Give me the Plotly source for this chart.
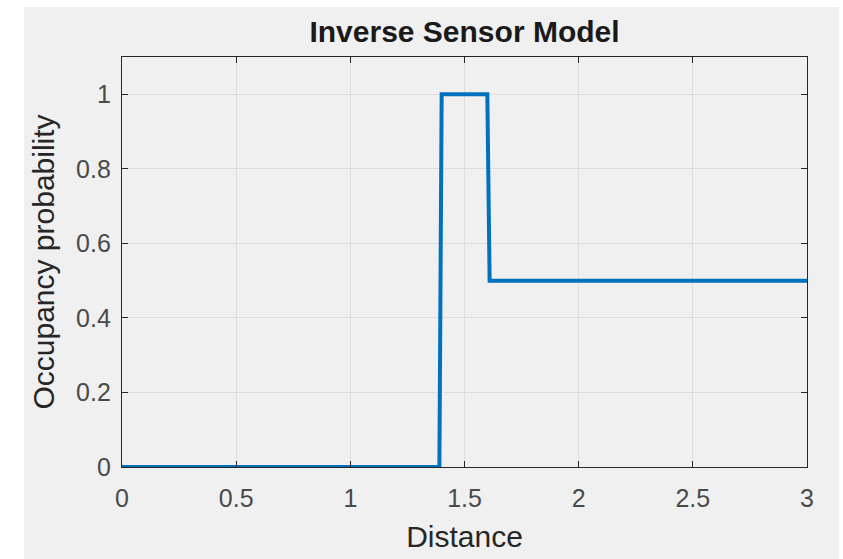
import plotly.graph_objects as go

# Inverse sensor model: occupancy probability along the beam
distance = [0.0, 1.39, 1.40, 1.60, 1.61, 3.0]
occupancy = [0.0, 0.0, 1.0, 1.0, 0.5, 0.5]

x_ticks = [0, 0.5, 1, 1.5, 2, 2.5, 3]
x_tick_text = ["0", "0.5", "1", "1.5", "2", "2.5", "3"]
y_ticks = [0, 0.2, 0.4, 0.6, 0.8, 1]
y_tick_text = ["0", "0.2", "0.4", "0.6", "0.8", "1"]

W, H = 843, 559
L, R, T, B = 122, 36, 57, 92
FONT = "Liberation Sans, Arial, Helvetica, sans-serif"
AX = "#262626"

fig = go.Figure()
fig.add_trace(go.Scatter(
    x=distance, y=occupancy, mode="lines",
    line=dict(color="#0072BD", width=4),
    showlegend=False, hoverinfo="skip",
))

axis_common = dict(
    showline=True, linecolor=AX, linewidth=1.3, mirror="allticks",
    ticks="inside", ticklen=6, tickwidth=1.2, tickcolor=AX,
    showgrid=True, gridcolor="#dedede", gridwidth=1,
    zeroline=False,
    tickfont=dict(family=FONT, size=25, color="#4a4a4a"),
)

fig.update_xaxes(
    range=[0, 3], tickvals=x_ticks, ticktext=x_tick_text,
    title=dict(text="Distance", font=dict(family=FONT, size=30, color="#262626"), standoff=14),
    ticklabelstandoff=9,
    **axis_common,
)
fig.update_yaxes(
    range=[0, 1.1], tickvals=y_ticks, ticktext=y_tick_text,
    title=dict(text="Occupancy probability", font=dict(family=FONT, size=30, color="#262626"), standoff=12),
    ticklabelstandoff=5,
    **axis_common,
)

# gray figure panel with a thin white border at top and sides
pw = W - L - R
ph = H - T - B
fig.add_shape(
    type="rect", xref="paper", yref="paper", layer="below",
    x0=(24 - L) / pw, x1=(839 - L) / pw,
    y0=(H - B - 560) / ph, y1=(H - B - 7) / ph,
    fillcolor="#f0f0f0", line=dict(width=0),
)

fig.update_layout(
    width=W, height=H,
    margin=dict(l=L, r=R, t=T, b=B, autoexpand=False),
    paper_bgcolor="white", plot_bgcolor="white",
    title=dict(
        text="<b>Inverse Sensor Model</b>",
        font=dict(family=FONT, size=30, color="#1a1a1a"),
        x=(L + pw / 2) / W, xanchor="center",
        y=1 - 31 / H, yanchor="middle", yref="container",
    ),
)

fig.write_html("out.html")
